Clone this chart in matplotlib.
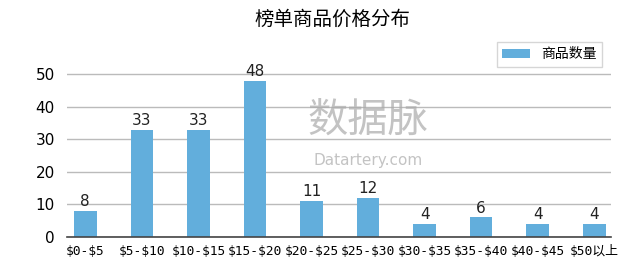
import matplotlib.pyplot as plt

plt.rcParams['font.family'] = ['DejaVu Sans', 'Noto Sans CJK SC']

categories = ['$0-$5', '$5-$10', '$10-$15', '$15-$20', '$20-$25',
              '$25-$30', '$30-$35', '$35-$40', '$40-$45', '$50以上']
counts = [8, 33, 33, 48, 11, 12, 4, 6, 4, 4]

fig = plt.figure(figsize=(6.4, 2.69), dpi=100)
ax = fig.add_axes([0.105, 0.119, 0.85, 0.665])

x = range(len(categories))
ax.bar(x, counts, width=0.4, color='#62aedc', label='商品数量', zorder=2)
for xi, v in zip(x, counts):
    ax.text(xi, v + 0.6, str(v), ha='center', va='bottom', fontsize=11, color='#222222')

ax.set_xlim(-0.32, 9.3)
ax.set_ylim(0, 55)
ax.set_yticks([0, 10, 20, 30, 40, 50])
ax.yaxis.grid(True, color='#bbbbbb', linewidth=1, zorder=0)
ax.set_xticks(list(x))
ax.set_xticklabels([c.replace('$', r'\$') for c in categories],
                   family=['DejaVu Sans Mono', 'Noto Sans CJK SC'], fontsize=9.3)
ax.tick_params(axis='both', length=0)
ax.tick_params(axis='y', labelsize=11, pad=9)
ax.tick_params(axis='x', pad=6)
for s in ['top', 'right', 'left']:
    ax.spines[s].set_visible(False)
ax.spines['bottom'].set_color('#444444')
ax.spines['bottom'].set_linewidth(1.2)

fig.text(0.52, 0.93, '榜单商品价格分布', ha='center', va='center', fontsize=14,
         family=['Noto Sans CJK SC'])
fig.legend(loc='upper right', bbox_to_anchor=(0.952, 0.87),
           prop={'family': 'Noto Sans CJK SC', 'size': 10}, handlelength=2.0,
           fancybox=False, edgecolor='#cccccc')

# watermark
fig.text(0.575, 0.555, '数据脉', fontsize=29, color='#aaaaaa', alpha=0.7,
         family=['Noto Sans CJK SC'], ha='center', va='center')
fig.text(0.575, 0.405, 'Datartery.com', fontsize=11, color='#aaaaaa', alpha=0.7,
         ha='center', va='center')

fig.savefig('out.png', dpi=100)
